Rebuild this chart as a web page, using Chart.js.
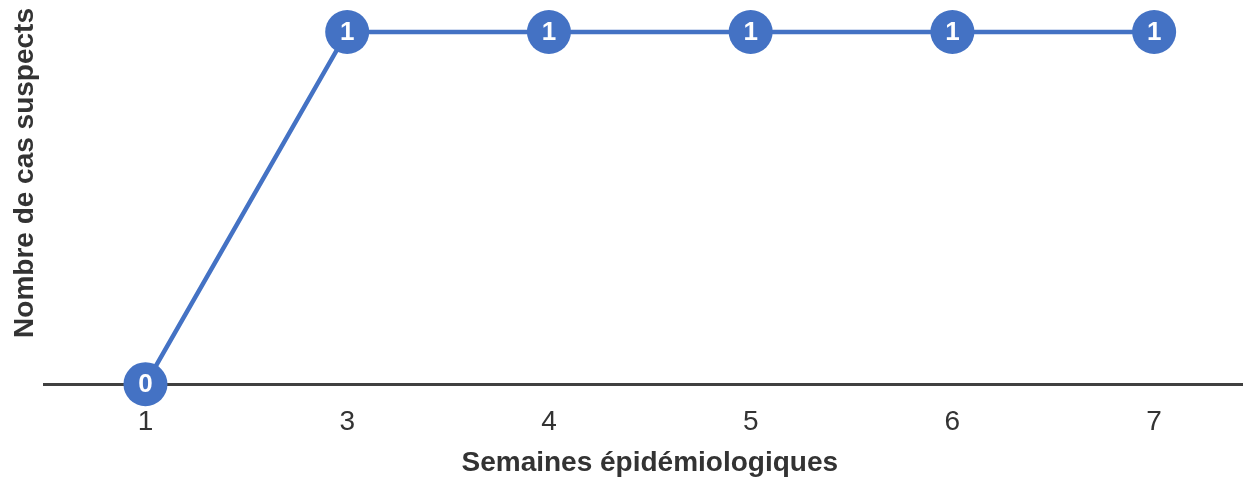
<!DOCTYPE html>
<html>
<head>
<meta charset="utf-8">
<script src="https://cdn.jsdelivr.net/npm/chart.js@4"></script>
<style>
  html, body { margin: 0; padding: 0; background: #fff; overflow: hidden; }
  canvas { display: block; }
</style>
</head>
<body>
<canvas id="grafico" width="1255" height="482" style="width:1255px;height:482px"></canvas>
<script>
// Données
const semaines = ['1', '3', '4', '5', '6', '7'];
const casSuspects = [0, 1, 1, 1, 1, 1];

const bleu = '#4472C4';
const police = '"Liberation Sans", Arial, sans-serif';

// Étiquettes blanches dans les points
const etiquettes = {
  id: 'etiquettes',
  afterDatasetsDraw(chart) {
    const ctx = chart.ctx;
    const meta = chart.getDatasetMeta(0);
    ctx.save();
    ctx.fillStyle = '#fff';
    ctx.font = 'bold 26px ' + police;
    ctx.textAlign = 'center';
    ctx.textBaseline = 'middle';
    meta.data.forEach((pt, i) => {
      ctx.fillText(String(casSuspects[i]), pt.x, pt.y + 1);
    });
    ctx.restore();
  }
};

new Chart(document.getElementById('grafico'), {
  type: 'line',
  data: {
    labels: semaines,
    datasets: [{
      data: casSuspects,
      borderColor: bleu,
      borderWidth: 4.5,
      backgroundColor: bleu,
      pointBackgroundColor: bleu,
      pointBorderWidth: 0,
      pointRadius: 22,
      pointHoverRadius: 22,
      tension: 0,
      clip: false
    }]
  },
  options: {
    responsive: false,
    animation: false,
    devicePixelRatio: 1,
    layout: { autoPadding: false, padding: { top: 8, left: 5, right: 0, bottom: 2 } },
    plugins: {
      legend: { display: false },
      tooltip: { enabled: false }
    },
    scales: {
      x: {
        offset: true,
        grid: { display: false, drawTicks: false },
        border: { display: true, color: '#404040', width: 3 },
        ticks: {
          color: '#333',
          padding: 21,
          font: { family: police, size: 28 }
        },
        title: {
          display: true,
          text: 'Semaines épidémiologiques',
          color: '#333',
          padding: { top: -13.4, bottom: 0 },
          font: { family: police, size: 28, weight: 'bold' }
        }
      },
      y: {
        min: 0,
        max: 1.068,
        grid: { display: false, drawTicks: false },
        border: { display: false },
        ticks: { display: false },
        title: {
          display: true,
          text: 'Nombre de cas suspects',
          align: 'end',
          color: '#333',
          padding: 3,
          font: { family: police, size: 28, weight: 'bold' }
        }
      }
    }
  },
  plugins: [etiquettes]
});
</script>
</body>
</html>
